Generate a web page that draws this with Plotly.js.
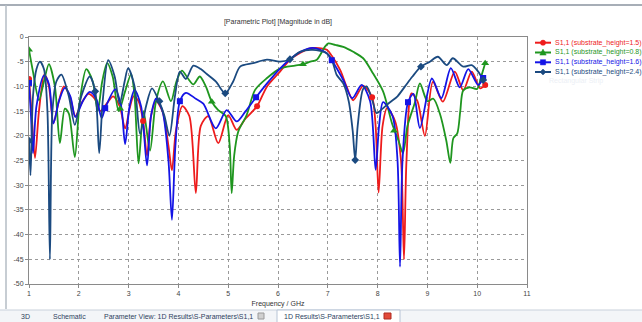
<!DOCTYPE html>
<html><head><meta charset="utf-8">
<script src="https://cdn.plot.ly/plotly-3.0.1.min.js"></script>
<style>html,body{margin:0;padding:0;background:#fff}#chart{width:642px;height:322px}</style>
</head><body><div id="chart"></div>
<script>
// ---- data (frequency in GHz, S11 in dB) ----
const freqRed = [1.00,1.05,1.12,1.20,1.31,1.40,1.49,1.60,1.70,1.82,1.93,2.05,2.19,2.32,2.43,2.56,2.69,2.82,2.93,3.02,3.10,3.20,3.29,3.37,3.45,3.55,3.68,3.80,3.87,3.95,4.08,4.22,4.35,4.45,4.60,4.80,5.00,5.17,5.35,5.58,5.78,6.04,6.24,6.45,6.64,6.75,6.98,7.08,7.25,7.38,7.51,7.71,7.89,7.96,8.02,8.10,8.19,8.35,8.47,8.53,8.58,8.68,8.80,8.95,9.11,9.31,9.55,9.72,9.89,10.06,10.16];
const s11Red  = [-8.5,-15,-24.5,-15,-7.5,-10,-17.5,-13,-10,-12,-16,-13.5,-11.5,-12.5,-15,-13.5,-12,-14,-18.5,-14.5,-12,-13,-17,-24,-16,-13,-15,-22,-27,-19,-14,-16,-31.6,-18,-16,-21.5,-15.8,-18.8,-16.5,-14,-10,-7,-4.6,-3.2,-2.3,-2.2,-2.6,-3.8,-6.7,-10.1,-12.8,-9.9,-12.2,-18,-31.5,-18,-14.4,-17,-25,-45,-25,-11.4,-13,-20,-9.1,-13.1,-7,-10.8,-7,-10.4,-9.7];

const freqGreen = [1.00,1.08,1.20,1.30,1.40,1.52,1.62,1.72,1.80,1.92,2.02,2.15,2.28,2.38,2.47,2.57,2.68,2.80,2.93,3.05,3.12,3.20,3.30,3.43,3.55,3.69,3.85,3.96,4.07,4.20,4.30,4.43,4.55,4.67,4.80,4.95,5.03,5.07,5.12,5.20,5.37,5.54,5.78,6.04,6.34,6.50,6.65,6.78,6.94,7.01,7.15,7.31,7.51,7.71,7.91,8.11,8.29,8.42,8.51,8.60,8.75,8.85,9.00,9.12,9.25,9.38,9.46,9.52,9.60,9.66,9.72,9.85,10.00,10.08,10.16];
const s11Green  = [-2.6,-7,-12.8,-9,-5.5,-10,-21.5,-14.5,-15.5,-24.3,-13,-6.5,-9,-15,-9,-5.3,-8,-15,-11,-7.5,-12,-25.6,-15,-23,-13,-9,-13,-9,-6.8,-8.5,-9.6,-8,-10,-13.1,-14.8,-16,-22,-31.6,-24,-19.2,-15.8,-10.7,-8.3,-6.4,-5.8,-5.5,-5,-4.6,-2,-1.3,-1.6,-2,-3,-4.3,-7.4,-11,-17.5,-21,-23.5,-18,-13.2,-9.4,-13,-12.5,-15.5,-21,-25.5,-20.5,-19.5,-15,-10.8,-10.2,-10.5,-8,-5.3];

const freqBlue = [1.00,1.04,1.08,1.15,1.30,1.40,1.49,1.60,1.72,1.83,1.93,2.08,2.22,2.35,2.46,2.53,2.73,2.85,2.93,3.02,3.12,3.25,3.37,3.45,3.55,3.68,3.80,3.87,3.94,4.03,4.15,4.35,4.50,4.75,4.97,5.17,5.35,5.56,5.78,6.04,6.24,6.45,6.70,6.98,7.08,7.31,7.49,7.68,7.85,7.96,8.03,8.11,8.30,8.40,8.45,8.50,8.61,8.72,8.85,9.09,9.28,9.47,9.65,9.82,10.02,10.12];
const s11Blue  = [-9.3,-16,-23.5,-14,-7.8,-9.5,-17.5,-13,-10.3,-12,-16.2,-13,-11.1,-12.5,-16.4,-14.4,-10.6,-14,-21.7,-14,-10.7,-14,-26,-16,-12.5,-15,-25,-37,-22,-13,-11.3,-12.5,-13.5,-18.5,-14.8,-17.1,-15,-12.2,-9.4,-6.4,-4.5,-3,-2.2,-3.3,-4.7,-8.7,-12.4,-9.7,-13,-26.9,-18,-13.2,-16,-25,-46.5,-25,-13.2,-11.5,-18.4,-8.4,-12.4,-6.3,-10.2,-6.5,-9.7,-8.3];

const freqNavy = [1.00,1.03,1.08,1.15,1.22,1.30,1.37,1.42,1.47,1.55,1.65,1.80,1.92,2.05,2.22,2.33,2.41,2.48,2.59,2.72,2.82,2.92,2.99,3.12,3.23,3.35,3.47,3.61,3.72,3.82,3.93,4.03,4.15,4.30,4.45,4.57,4.75,4.94,5.10,5.24,5.50,5.78,6.04,6.24,6.44,6.70,6.98,7.08,7.18,7.31,7.42,7.50,7.55,7.60,7.71,7.78,7.90,7.98,8.10,8.25,8.40,8.55,8.70,8.87,9.05,9.21,9.39,9.51,9.72,9.89,10.02,10.12];
const s11Navy  = [-21,-28,-12,-6.5,-5,-6.5,-15,-45,-15,-9,-7.6,-12,-17.8,-12,-8,-11,-23.5,-13,-4.7,-8,-13.5,-9,-6.3,-10,-19.6,-14,-10.4,-13,-16,-20,-12,-7,-8.5,-5.8,-6.5,-7.5,-9,-11.4,-9,-6,-5.3,-4.6,-5,-4.5,-3,-2.6,-3.3,-4.6,-7.7,-9.4,-13,-19,-24.9,-18,-10.5,-10,-13,-15.4,-14.5,-13.2,-12,-10,-8,-6,-5,-4,-5.7,-4.3,-6,-5.7,-7,-8.7];

// marker positions drawn on each curve
const markFreqRed = [1.0,3.29,5.58,7.89,10.16];
const markValRed  = [-8.5,-17,-14,-12.2,-9.7];
const markFreqGreen = [1.0,2.83,4.67,6.5,8.33,10.16];
const markValGreen  = [-2.6,-14.5,-13.1,-5.5,-19,-5.3];
const markFreqBlue = [1.0,2.53,4.03,5.56,7.08,8.61,10.12];
const markValBlue  = [-9.3,-14.4,-13,-12.2,-4.7,-13.2,-8.3];
const markFreqNavy = [1.0,2.33,3.62,4.94,6.24,7.55,8.87,10.12];
const markValNavy  = [-21,-11,-13,-11.4,-4.5,-24.9,-6,-8.7];

const seriesNames = ["S1,1 (substrate_height=1.5)","S1,1 (substrate_height=0.8)","S1,1 (substrate_height=1.6)","S1,1 (substrate_height=2.4)"];
const xTicks = [1,2,3,4,5,6,7,8,9,10,11];
const yTicks = [0,-5,-10,-15,-20,-25,-30,-35,-40,-45,-50];
const tabLabels = ["3D","Schematic","Parameter View: 1D Results\\S-Parameters\\S1,1","1D Results\\S-Parameters\\S1,1"];

// ---- styling ----
const colors = ["#ee1c1c","#1f961f","#1414e6","#1b4a80"];
const symbols = ["circle","triangle-up","square","diamond"];
const msizes = [6,7,6,6];
const FONT = "Liberation Sans, Arial, sans-serif";

const lineX = [freqRed,freqGreen,freqBlue,freqNavy];
const lineY = [s11Red,s11Green,s11Blue,s11Navy];
const mX = [markFreqRed,markFreqGreen,markFreqBlue,markFreqNavy];
const mY = [markValRed,markValGreen,markValBlue,markValNavy];

const traces = [];
for (let i=0;i<4;i++){
  traces.push({x:lineX[i],y:lineY[i],type:"scatter",mode:"lines",name:seriesNames[i],
    line:{color:colors[i],width:1.8,shape:"spline",smoothing:0.8},showlegend:false,hoverinfo:"skip"});
}
for (let i=0;i<4;i++){
  traces.push({x:mX[i],y:mY[i],type:"scatter",mode:"markers",name:seriesNames[i],
    marker:{color:colors[i],symbol:symbols[i],size:msizes[i]},showlegend:false,hoverinfo:"skip"});
}

// pixel -> paper helpers (plot area 29..527 x 37..284)
const L=29,R=527,T=37,B=284;
const px = v => (v-L)/(R-L);
const py = v => (B-v)/(B-T);

const shapes = [];
const annotations = [];
// window frame
shapes.push({type:"line",xref:"paper",yref:"paper",x0:px(0),x1:px(642),y0:py(5),y1:py(5),line:{color:"#a7aeb7",width:2},layer:"above"});
shapes.push({type:"line",xref:"paper",yref:"paper",x0:px(6),x1:px(6),y0:py(5),y1:py(309),line:{color:"#b5bcc4",width:1.5},layer:"above"});
// tab bar
shapes.push({type:"rect",xref:"paper",yref:"paper",x0:px(0),x1:px(642),y0:py(310),y1:py(322),fillcolor:"#f3f5f8",line:{width:0},layer:"below"});
shapes.push({type:"line",xref:"paper",yref:"paper",x0:px(0),x1:px(642),y0:py(310),y1:py(310),line:{color:"#c9d1db",width:1},layer:"above"});
shapes.push({type:"rect",xref:"paper",yref:"paper",x0:px(277),x1:px(400),y0:py(310),y1:py(323),fillcolor:"#ffffff",line:{color:"#b7c4d6",width:1},layer:"above"});
shapes.push({type:"rect",xref:"paper",yref:"paper",x0:px(258),x1:px(264),y0:py(313),y1:py(319),fillcolor:"#d0d0d0",line:{color:"#9a9a9a",width:1},layer:"above"});
shapes.push({type:"rect",xref:"paper",yref:"paper",x0:px(384),x1:px(391),y0:py(313),y1:py(319),fillcolor:"#e24a3a",line:{color:"#b02a20",width:1},layer:"above"});
const tabCenters = [25.5,69,178,332];
for (let i=0;i<tabLabels.length;i++){
  annotations.push({xref:"paper",yref:"paper",x:px(tabCenters[i]),y:py(316),text:tabLabels[i],showarrow:false,
    xanchor:"center",yanchor:"middle",font:{family:FONT,size:7,color:"#2e3f5e"}});
}
// legend (drawn manually to match the compact row spacing)
const legRows = [42.7,52.5,62.3,72];
for (let i=0;i<4;i++){
  const yy = legRows[i];
  shapes.push({type:"line",xref:"paper",yref:"paper",x0:px(535),x1:px(551),y0:py(yy),y1:py(yy),line:{color:colors[i],width:2},layer:"above"});
  const cx=543, r=2.6;
  let sh;
  if (symbols[i]==="circle") sh={type:"circle",x0:px(cx-r),x1:px(cx+r),y0:py(yy+r),y1:py(yy-r)};
  else if (symbols[i]==="square") sh={type:"rect",x0:px(cx-r),x1:px(cx+r),y0:py(yy+r),y1:py(yy-r)};
  else if (symbols[i]==="triangle-up") sh={type:"path",path:`M ${px(cx-3.2)} ${py(yy+2.6)} L ${px(cx+3.2)} ${py(yy+2.6)} L ${px(cx)} ${py(yy-3.4)} Z`};
  else sh={type:"path",path:`M ${px(cx-3)} ${py(yy)} L ${px(cx)} ${py(yy-3)} L ${px(cx+3)} ${py(yy)} L ${px(cx)} ${py(yy+3)} Z`};
  Object.assign(sh,{xref:"paper",yref:"paper",fillcolor:colors[i],line:{color:colors[i],width:0.5},layer:"above"});
  shapes.push(sh);
  annotations.push({xref:"paper",yref:"paper",x:px(553),y:py(yy),text:seriesNames[i],showarrow:false,
    xanchor:"left",yanchor:"middle",font:{family:FONT,size:7,color:colors[i]}});
}
annotations.push({xref:"paper",yref:"paper",x:px(576),y:py(81),text:"Rectangular Strip",showarrow:false,
  xanchor:"center",yanchor:"middle",font:{family:FONT,size:7,color:"#eceff5"}});

const axisCommon = {showgrid:true,gridcolor:"#9a9a9a",griddash:"dot",gridwidth:1,zeroline:false,
  showline:true,linecolor:"#8a8a8a",linewidth:1,mirror:true,ticks:"outside",ticklen:3,tickcolor:"#8a8a8a",
  tickfont:{family:FONT,size:7,color:"#444"},fixedrange:true};

const layout = {
  width:642,height:322,
  margin:{l:L,r:642-R,t:T,b:322-B,pad:0},
  paper_bgcolor:"#ffffff",plot_bgcolor:"#ffffff",
  showlegend:false,
  title:{text:"[Parametric Plot] [Magnitude in dB]",font:{family:FONT,size:7,color:"#333"},
    xref:"paper",x:0.5,xanchor:"center",yref:"container",y:1-22/322,yanchor:"middle"},
  xaxis:Object.assign({},axisCommon,{range:[1,11],tickvals:xTicks,ticktext:xTicks.map(String),
    title:{text:"Frequency / GHz",font:{family:FONT,size:7,color:"#333"},standoff:4}}),
  yaxis:Object.assign({},axisCommon,{range:[-50,0],tickvals:yTicks,ticktext:yTicks.map(String)}),
  shapes:shapes,annotations:annotations
};
Plotly.newPlot("chart",traces,layout,{staticPlot:true,displayModeBar:false});
</script></body></html>
